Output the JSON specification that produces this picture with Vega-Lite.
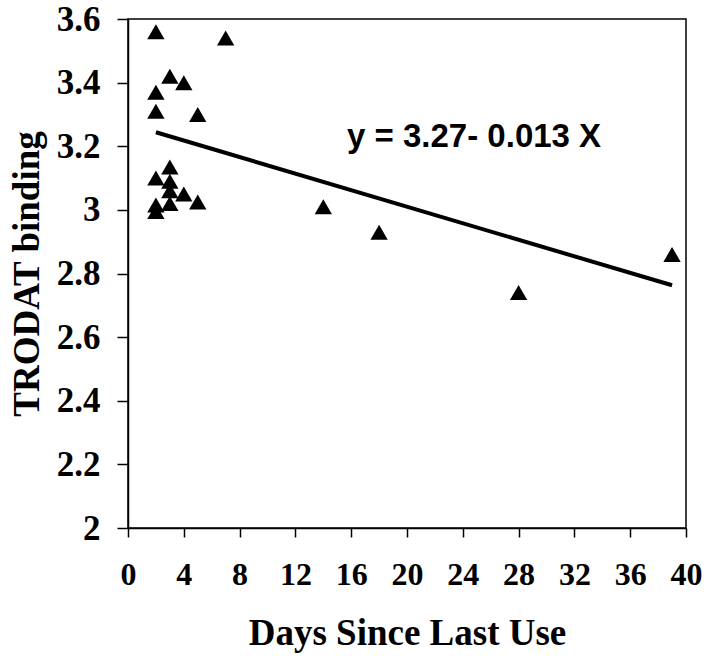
{
  "$schema": "https://vega.github.io/schema/vega-lite/v6.json",
  "width": 558,
  "height": 509,
  "autosize": {"type": "none"},
  "padding": {"left": 128, "top": 19, "right": 18, "bottom": 128},
  "background": "white",
  "config": {"view": {"stroke": "black", "strokeWidth": 1.5}},
  "datasets": {
    "points": [
      {"days": 2, "binding": 3.56},
      {"days": 7, "binding": 3.54},
      {"days": 3, "binding": 3.42},
      {"days": 4, "binding": 3.40},
      {"days": 2, "binding": 3.37},
      {"days": 2, "binding": 3.31},
      {"days": 5, "binding": 3.30},
      {"days": 3, "binding": 3.135},
      {"days": 2, "binding": 3.10},
      {"days": 3, "binding": 3.09},
      {"days": 3, "binding": 3.06},
      {"days": 4, "binding": 3.05},
      {"days": 5, "binding": 3.025},
      {"days": 3, "binding": 3.02},
      {"days": 2, "binding": 3.015},
      {"days": 2, "binding": 2.995},
      {"days": 14, "binding": 3.01},
      {"days": 18, "binding": 2.93},
      {"days": 28, "binding": 2.74},
      {"days": 39, "binding": 2.86}
    ],
    "fit": [
      {"days": 2, "binding": 3.244},
      {"days": 39, "binding": 2.763}
    ],
    "label": [
      {"days": 15.7, "binding": 3.198, "text": "y = 3.27- 0.013 X"}
    ]
  },
  "layer": [
    {
      "data": {"name": "points"},
      "mark": {"type": "point", "shape": "triangle-up", "filled": true, "color": "black", "size": 300, "opacity": 1},
      "encoding": {
        "x": {
          "field": "days", "type": "quantitative",
          "scale": {"domain": [0, 40], "nice": false, "zero": false},
          "axis": {
            "values": [0, 4, 8, 12, 16, 20, 24, 28, 32, 36, 40],
            "title": "Days Since Last Use",
            "titleFont": "Liberation Serif", "titleFontSize": 37, "titleFontWeight": "bold", "titleColor": "black",
            "titlePadding": 25,
            "labelFont": "Liberation Serif", "labelFontSize": 32, "labelFontWeight": "bold", "labelColor": "black",
            "labelPadding": 22, "labelFlush": false, "labelOverlap": false,
            "domainColor": "black", "domainWidth": 1.5,
            "tickColor": "black", "tickWidth": 1.5, "tickSize": 9,
            "grid": false
          }
        },
        "y": {
          "field": "binding", "type": "quantitative",
          "scale": {"domain": [2, 3.6], "nice": false, "zero": false},
          "axis": {
            "values": [2, 2.2, 2.4, 2.6, 2.8, 3, 3.2, 3.4, 3.6],
            "format": ".1~f",
            "title": "TRODAT binding",
            "titleFont": "Liberation Serif", "titleFontSize": 37, "titleFontWeight": "bold", "titleColor": "black",
            "titlePadding": 10,
            "labelFont": "Liberation Serif", "labelFontSize": 35, "labelFontWeight": "bold", "labelColor": "black",
            "labelPadding": 17, "labelFlush": false, "labelOverlap": false,
            "domainColor": "black", "domainWidth": 1.5,
            "tickColor": "black", "tickWidth": 1.5, "tickSize": 11,
            "grid": false
          }
        }
      }
    },
    {
      "data": {"name": "fit"},
      "mark": {"type": "line", "color": "black", "strokeWidth": 4},
      "encoding": {
        "x": {"field": "days", "type": "quantitative"},
        "y": {"field": "binding", "type": "quantitative"}
      }
    },
    {
      "data": {"name": "label"},
      "mark": {"type": "text", "align": "left", "baseline": "alphabetic", "font": "Liberation Sans", "fontWeight": "bold", "fontSize": 33, "color": "black"},
      "encoding": {
        "x": {"field": "days", "type": "quantitative"},
        "y": {"field": "binding", "type": "quantitative"},
        "text": {"field": "text"}
      }
    }
  ]
}
